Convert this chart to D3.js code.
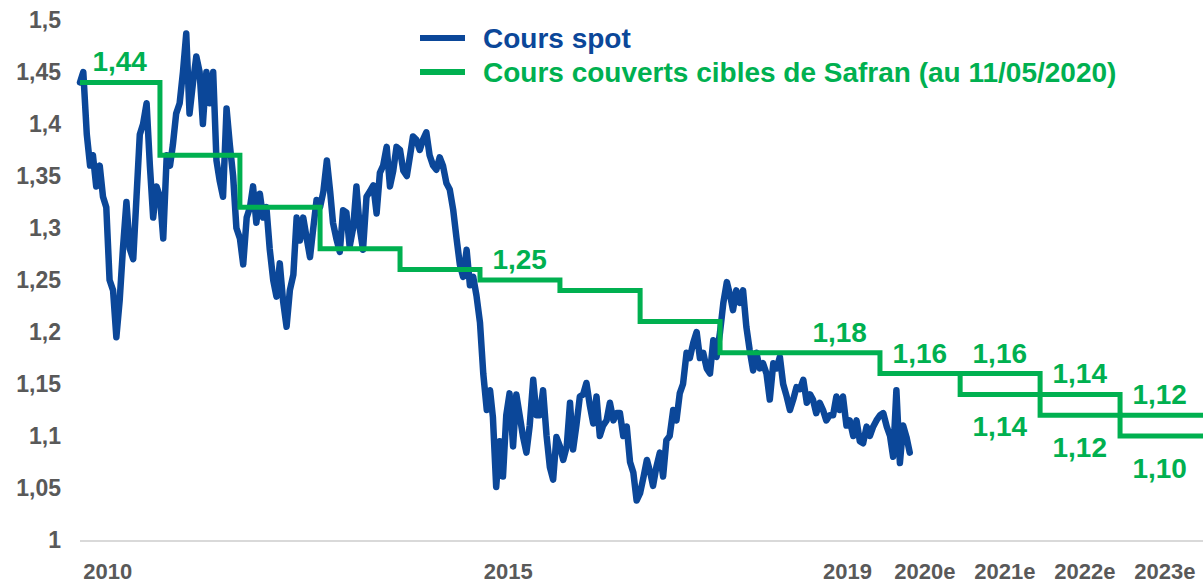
<!DOCTYPE html>
<html>
<head>
<meta charset="utf-8">
<script src="https://cdn.jsdelivr.net/npm/d3@7"></script>
<style>
  html, body { margin: 0; padding: 0; background: #ffffff; }
  svg { display: block; font-family: "Liberation Sans", Arial, sans-serif; }
</style>
</head>
<body>
<svg id="chart" width="1203" height="584"></svg>
<script>
// ---------------- DATA ----------------
// EUR/USD spot, two readings per month (1st and 16th)
const spot2010 = [1.44,1.45,1.39,1.36,1.37,1.34,1.36,1.33,1.32,1.25,1.24,1.195,1.23,1.28,1.325,1.28,1.27,1.33,1.39,1.40,1.42,1.36,1.31,1.34];
const spot2011 = [1.33,1.29,1.37,1.36,1.38,1.41,1.42,1.45,1.487,1.41,1.44,1.465,1.45,1.40,1.45,1.42,1.45,1.365,1.345,1.33,1.415,1.38,1.35,1.30];
const spot2012 = [1.29,1.265,1.31,1.32,1.34,1.305,1.333,1.31,1.32,1.28,1.25,1.234,1.266,1.23,1.205,1.24,1.255,1.31,1.288,1.31,1.29,1.272,1.30,1.327];
const spot2013 = [1.32,1.335,1.365,1.335,1.305,1.29,1.277,1.317,1.315,1.282,1.30,1.34,1.30,1.279,1.33,1.335,1.341,1.314,1.353,1.36,1.378,1.34,1.355,1.378];
const spot2014 = [1.375,1.355,1.35,1.37,1.388,1.385,1.375,1.385,1.392,1.37,1.36,1.356,1.368,1.36,1.343,1.337,1.317,1.29,1.265,1.253,1.279,1.245,1.253,1.235];
const spot2015 = [1.209,1.16,1.125,1.144,1.118,1.051,1.095,1.061,1.12,1.141,1.09,1.14,1.12,1.10,1.084,1.11,1.154,1.12,1.12,1.144,1.10,1.07,1.058,1.099];
const spot2016 = [1.09,1.077,1.09,1.132,1.087,1.11,1.138,1.14,1.151,1.13,1.112,1.138,1.10,1.11,1.115,1.132,1.115,1.122,1.122,1.10,1.109,1.075,1.065,1.038];
const spot2017 = [1.045,1.06,1.077,1.065,1.052,1.07,1.084,1.061,1.096,1.10,1.125,1.115,1.141,1.15,1.18,1.175,1.19,1.20,1.175,1.18,1.165,1.16,1.192,1.176];
const spot2018 = [1.20,1.228,1.248,1.235,1.221,1.24,1.228,1.24,1.205,1.183,1.163,1.18,1.165,1.17,1.16,1.135,1.17,1.165,1.176,1.15,1.138,1.125,1.135,1.147];
const spot2019 = [1.145,1.154,1.132,1.14,1.135,1.122,1.132,1.125,1.115,1.12,1.12,1.138,1.125,1.138,1.11,1.115,1.10,1.115,1.095,1.093,1.109,1.10,1.109,1.115];
const spot2020 = [1.12,1.122,1.109,1.10,1.08,1.144,1.074,1.11,1.099,1.084];
const spotYears = [2010,2011,2012,2013,2014,2015,2016,2017,2018,2019,2020];

// Safran hedged target rates (per year)
const targetYears  = [2010,2011,2012,2013,2014,2015,2016,2017,2018,2019,2020,2021,2022,2023];
const targetValues = [1.44,1.37,1.32,1.28,1.26,1.25,1.24,1.21,1.18,1.18,1.16,1.16,1.14,1.12];
const lowerYears   = [2021,2022,2023];
const lowerValues  = [1.14,1.12,1.10];

// Annotations on the green line
const labelTexts  = ["1,44","1,25","1,18","1,16","1,16","1,14","1,12","1,14","1,12","1,10"];
const labelYears  = [2010,2015,2019,2020,2021,2022,2023,2021,2022,2023];
const labelValues = [1.44,1.25,1.18,1.16,1.16,1.14,1.12,1.14,1.12,1.10];
const labelSides  = ["above","above","above","above","above","above","above","below","below","below"];

// Axis ticks
const yTicks = [1,1.05,1.1,1.15,1.2,1.25,1.3,1.35,1.4,1.45,1.5];
const xTickLabels = ["2010","2015","2019","2020e","2021e","2022e","2023e"];
const xTickDates  = ["2010-05-05","2015-05-08","2019-08-03","2020-07-22","2021-07-22","2022-07-22","2023-07-22"];

const legendLabels = ["Cours spot","Cours couverts cibles de Safran (au 11/05/2020)"];

// ---------------- STYLE ----------------
const BLUE = "#0b4799", GREEN = "#00b050", GREY = "#595959";

// ---------------- CHART ----------------
const svg = d3.select("#chart");
const x = d3.scaleTime().domain([new Date(2010,0,1), new Date(2024,0,1)]).range([80,1200]);
const y = d3.scaleLinear().domain([1,1.5]).range([540,20]);
const parse = d3.timeParse("%Y-%m-%d");

// baseline
svg.append("line").attr("x1",80).attr("x2",1203).attr("y1",y(1)+1).attr("y2",y(1)+1)
  .attr("stroke","#d9d9d9").attr("stroke-width",2);

// y axis
const yAxis = svg.append("g").attr("transform","translate(80,0)")
  .call(d3.axisLeft(y).tickValues(yTicks).tickSize(0).tickPadding(19)
    .tickFormat(d => d3.format(".2~f")(d).replace(".",",")));
yAxis.select(".domain").remove();
yAxis.selectAll("text").attr("fill",GREY).attr("font-size",23).attr("font-weight","bold")
  .attr("font-family","'Liberation Sans', Arial, sans-serif");

// x axis
const xAxis = svg.append("g").attr("transform","translate(0,"+y(1)+")")
  .call(d3.axisBottom(x).tickValues(xTickDates.map(parse)).tickSize(0).tickPadding(23)
    .tickFormat((d,i) => xTickLabels[i]));
xAxis.select(".domain").remove();
xAxis.selectAll("text").attr("fill",GREY).attr("font-size",22).attr("font-weight","bold")
  .attr("font-family","'Liberation Sans', Arial, sans-serif");

// spot series
const spotData = [];
const spotArrays = [spot2010,spot2011,spot2012,spot2013,spot2014,spot2015,spot2016,spot2017,spot2018,spot2019,spot2020];
spotArrays.forEach((arr,k) => {
  arr.forEach((v,i) => spotData.push({date: new Date(spotYears[k], Math.floor(i/2), i%2 ? 16 : 1), value: v}));
});
svg.append("path").datum(spotData)
  .attr("fill","none").attr("stroke",BLUE).attr("stroke-width",6.5)
  .attr("stroke-linejoin","round").attr("stroke-linecap","round")
  .attr("d", d3.line().x(d => x(d.date)).y(d => y(d.value)));

// target step lines
const stepLine = d3.line().curve(d3.curveStepAfter).x(d => x(d.date)).y(d => y(d.value));
const upper = targetYears.map((yr,i) => ({date: new Date(yr,0,1), value: targetValues[i]}));
upper.push({date: new Date(2024,1,1), value: targetValues[targetValues.length-1]});
svg.append("path").datum(upper)
  .attr("fill","none").attr("stroke",GREEN).attr("stroke-width",5).attr("d", stepLine);

const startIdx = targetYears.indexOf(lowerYears[0]);
const lower = [{date: new Date(lowerYears[0],0,1), value: targetValues[startIdx-1]}]
  .concat(lowerYears.map((yr,i) => ({date: new Date(yr,0,1), value: lowerValues[i]})));
lower.push({date: new Date(2024,1,1), value: lowerValues[lowerValues.length-1]});
svg.append("path").datum(lower)
  .attr("fill","none").attr("stroke",GREEN).attr("stroke-width",5).attr("d", stepLine);

// labels
svg.append("g").selectAll("text").data(labelTexts).join("text")
  .attr("x",(d,i) => x(new Date(labelYears[i],6,1)))
  .attr("y",(d,i) => y(labelValues[i]) + (labelSides[i]==="above" ? -11 : 42))
  .attr("text-anchor","middle").attr("fill",GREEN)
  .attr("font-size",28).attr("font-weight","bold")
  .text(d => d);

// legend
const legend = svg.append("g");
[BLUE, GREEN].forEach((c,i) => {
  legend.append("line").attr("x1",420).attr("x2",465).attr("y1",38+i*34).attr("y2",38+i*34)
    .attr("stroke",c).attr("stroke-width",6);
  legend.append("text").attr("x",483).attr("y",38+i*34).attr("dy","0.36em")
    .attr("fill",c).attr("font-size",28).attr("font-weight","bold")
    .text(legendLabels[i]);
});
</script>
</body>
</html>
